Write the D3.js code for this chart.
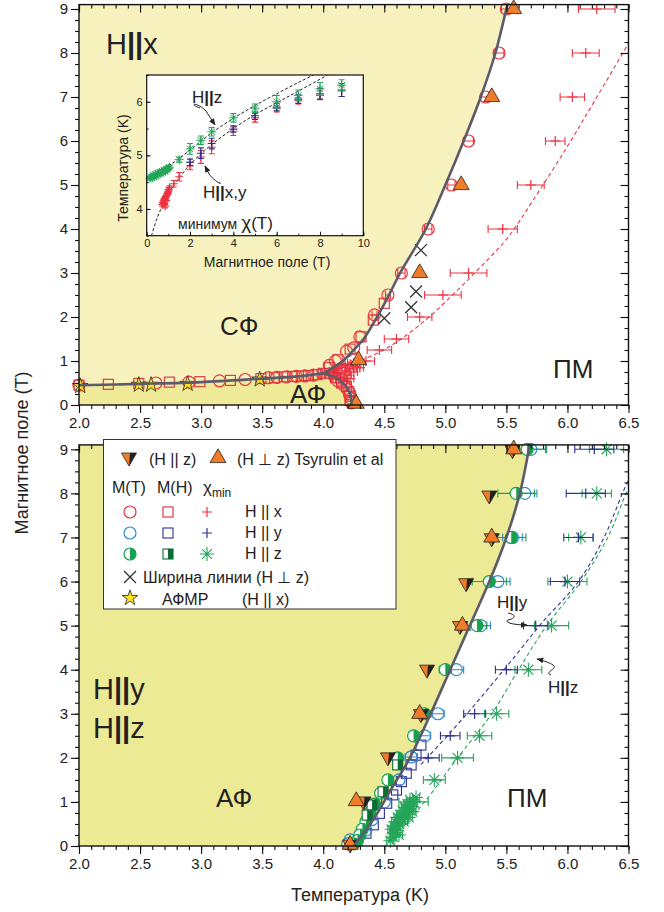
<!DOCTYPE html>
<html><head><meta charset="utf-8">
<script src="https://cdn.jsdelivr.net/npm/d3@7"></script>
<style>body{margin:0;background:#fff} svg{display:block} text{font-family:Arial,"Liberation Sans",sans-serif;fill:#222}</style>
</head><body><svg id="c" width="664" height="912"></svg>
<script>
// ---------------- DATA ----------------
const xTicks = [2.0,2.5,3.0,3.5,4.0,4.5,5.0,5.5,6.0,6.5];
const yTicks = [0,1,2,3,4,5,6,7,8,9];
const insetXTicks = [0,2,4,6,8,10];
const insetYTicks = [4,5,6];

// top panel boundary (T, H)
const topHoriz = [[2.0,0.45],[2.5,0.48],[3.0,0.52],[3.5,0.6],[3.8,0.65],[4.0,0.72]];
const topUpper = [[4.0,0.72],[4.08,0.85],[4.16,1.0],[4.25,1.25],[4.33,1.5],[4.42,1.9],[4.52,2.4],[4.63,3.0],[4.84,4.0],[5.0,5.0],[5.15,6.0],[5.29,7.0],[5.41,8.0],[5.5,9.0],[5.51,9.1]];
const topLower = [[4.0,0.72],[4.1,0.62],[4.16,0.5],[4.2,0.38],[4.22,0.25],[4.23,0.1],[4.23,0]];
const topRedDash = [[4.1,0.78],[4.28,0.98],[4.52,1.29],[4.79,1.82],[5.10,2.61],[5.3,3.17],[5.51,3.8],[5.72,4.66],[6.0,5.88],[6.22,6.9],[6.5,8.22]];

// top panel data: [T, H, errT]
const topCircleX = [[5.50,9,0.04],[5.44,8,0.04],[5.33,7,0.04],[5.19,6,0.04],[5.05,5,0.03],[4.86,4,0.03],[4.64,3,0.03],[4.53,2.5,0.02],[4.42,2.05,0.02],[4.30,1.55,0],[4.25,1.3,0],[4.19,1.22,0],[4.10,1.0,0],[4.05,0.9,0],
  [2.0,0.45,0],[2.63,0.5,0],[2.9,0.52,0],[3.15,0.55,0],[3.36,0.58,0],[3.55,0.62,0],[3.62,0.63,0],[3.70,0.64,0],[3.78,0.65,0],[3.85,0.66,0],[3.92,0.68,0],
  [4.12,0.55,0],[4.17,0.45,0],[4.2,0.35,0],[4.22,0.25,0],[4.23,0.15,0],[4.23,0.05,0]];
const topSquareX = [[2.0,0.45],[2.24,0.47],[2.49,0.49],[2.74,0.52],[2.99,0.53],[3.24,0.56],[3.49,0.6],[3.6,0.62],[3.68,0.64],[3.75,0.65],[3.82,0.66],[3.88,0.67],[3.95,0.69],[4.0,0.72],
  [4.50,2.31],[4.41,1.93],[4.31,1.55],[4.22,1.27],[4.12,1.03],[4.05,0.85],
  [4.1,0.62],[4.15,0.5],[4.19,0.42],[4.21,0.3],[4.22,0.2],[4.22,0.1]];
const topPlusX = [[6.24,9,0.15],[6.15,8,0.11],[6.04,7,0.1],[5.90,6,0.08],[5.70,5,0.11],[5.47,4,0.12],[5.19,3,0.15],[4.98,2.5,0.15],[4.79,2,0.1],[4.60,1.5,0.1],[4.46,1.25,0.1],[4.35,1.0,0.07],
  [3.98,0.7,0.03],[4.02,0.72,0.03],[4.05,0.75,0.03],[4.08,0.78,0.03],[4.1,0.8,0.03],[4.12,0.83,0.03],[4.15,0.86,0.03],[4.18,0.9,0.03],[4.2,0.93,0.03],[4.25,0.95,0.03],
  [4.05,0.68,0.03],[4.08,0.65,0.03],[4.12,0.7,0.03],[4.15,0.73,0.03],[4.18,0.78,0.03],[4.22,0.82,0.03],[4.27,0.88,0.03],[4.1,0.6,0.03],[4.14,0.62,0.03],[4.2,0.68,0.03],[4.25,0.75,0.03],[4.3,0.85,0.03],[4.17,0.55,0.03],[4.22,0.6,0.03]];
const topLineWidthX = [[4.80,3.52],[4.76,2.58],[4.72,2.22],[4.50,1.97]];
const topTriUp = [[5.56,9],[5.38,7],[5.13,5],[4.79,3],[4.29,1.02],[4.27,0.03]];
const topStar = [[2.01,0.43],[2.49,0.46],[2.59,0.46],[2.89,0.48],[3.48,0.58]];

// inset: [H, T, errT]
const insetUpperDash = [[0,4.57],[1,4.8],[2,5.1],[3,5.42],[4,5.69],[5,5.93],[6,6.15],[7,6.36],[7.7,6.5]];
const insetLowerDash = [[0.22,3.5],[0.5,3.85],[0.8,4.12],[1.2,4.42],[1.5,4.58],[2,4.83],[3,5.2],[4,5.5],[5,5.76],[6,5.98],[7,6.2],[8,6.42],[8.35,6.5]];
const insetGreen = [[0.15,4.57,0.03],[0.2,4.6,0.03],[0.25,4.58,0.03],[0.3,4.62,0.03],[0.35,4.6,0.03],[0.4,4.64,0.03],[0.45,4.62,0.03],[0.5,4.66,0.03],[0.55,4.65,0.03],[0.6,4.68,0.03],[0.65,4.66,0.03],[0.7,4.7,0.03],[0.75,4.69,0.03],[0.8,4.72,0.03],[0.85,4.7,0.03],[0.9,4.74,0.03],[0.95,4.73,0.03],[1.0,4.76,0.03],[1.05,4.78,0.03],
  [1.5,4.92,0.05],[2,5.12,0.1],[2.5,5.28,0.08],[3,5.44,0.08],[4,5.70,0.08],[5,5.88,0.08],[6,6.0,0.12],[7,6.12,0.1],[8,6.24,0.12],[9,6.31,0.1]];
const insetBlue = [[2,4.87,0.06],[2.5,5.04,0.1],[3,5.22,0.1],[4,5.49,0.06],[5,5.74,0.07],[6,5.9,0.07],[7,6.05,0.08],[8,6.15,0.1],[9,6.22,0.12]];
const insetRed = [[0.72,4.08,0.03],[0.75,4.12,0.03],[0.78,4.15,0.03],[0.8,4.1,0.03],[0.82,4.18,0.03],[0.85,4.2,0.03],[0.88,4.22,0.03],[0.9,4.16,0.03],[0.92,4.25,0.03],[0.95,4.28,0.03],[0.98,4.3,0.03],[1.0,4.33,0.03],[1.02,4.36,0.03],[1.05,4.4,0.03],[0.85,4.05,0.03],
  [1.25,4.47,0.06],[1.5,4.6,0.08],[2,4.8,0.07],[2.5,4.97,0.12],[3,5.15,0.12],[4,5.45,0.08],[5,5.7,0.08],[6,5.87,0.06],[7,6.02,0.06],[8,6.12,0.08],[9,6.2,0.1]];

// bottom panel boundary and fits (T, H)
const botCurve = [[4.25,0],[4.41,0.6],[4.56,1.3],[4.71,2.0],[4.88,3.0],[5.04,4.0],[5.2,5.0],[5.36,6],[5.5,7],[5.61,8],[5.69,9.1]];
const botBlueDash = [[4.8,1.85],[5.05,2.6],[5.3,3.4],[5.54,4.2],[5.79,5.06],[6.09,6.0],[6.3,7.0],[6.45,8.0],[6.5,8.3]];
const botGreenDash = [[4.55,0.1],[4.83,1.0],[5.1,2.0],[5.38,3.0],[5.6,4.0],[5.83,5.0],[6.11,6.0],[6.33,7.0],[6.48,8.0],[6.5,8.1]];

// bottom panel data: [T, H, errT]
const botTriUp = [[5.56,9],[5.38,7],[5.14,5],[4.79,3],[4.27,1.02],[4.22,0.03]];
const botTriDown = [[5.55,8.97],[5.36,7.94],[5.38,6.97],[5.17,5.95],[5.12,4.98],[4.85,3.99],[4.8,2.98],[4.53,2.0],[4.33,1.0],[4.22,0.02]];
const botCircleY = [[5.70,9,0.12],[5.65,8,0.1],[5.55,7,0.08],[5.43,6,0.1],[5.29,5,0.08],[5.09,4,0.06],[4.94,3,0.05],[4.83,2.5,0.05],[4.72,2.02,0.05],[4.62,1.5,0],[4.5,1.0,0],[4.4,0.6,0],[4.35,0.36,0],[4.22,0.14,0],[4.2,0.05,0]];
const botCircleZ = [[5.67,9,0.16],[5.58,8,0.15],[5.54,7,0.12],[5.36,6,0.14],[5.26,5,0.08],[5.0,4,0.05],[4.83,3,0.05],[4.74,2.5,0.04],[4.61,2,0.04],[4.53,1.5,0.04],[4.47,1.2,0],[4.42,0.95,0],[4.38,0.75,0],[4.35,0.55,0],[4.32,0.38,0],[4.3,0.25,0],[4.28,0.12,0],[4.25,0.05,0]];
const botSquareY = [[4.80,2.29],[4.76,2.06],[4.72,1.84],[4.68,1.65],[4.64,1.46],[4.60,1.27],[4.57,1.16],[4.52,0.97],[4.46,0.74],[4.41,0.48],[4.35,0.29]];
const botSquareZ = [[4.61,1.84],[4.49,1.23],[4.40,0.93],[4.36,0.7]];
const botPlusY = [[6.22,9,0.16],[6.15,8,0.16],[6.09,7,0.12],[5.98,6,0.12],[5.74,5,0.1],[5.50,4,0.09],[5.24,3,0.09],[5.04,2.5,0.08],[4.86,2,0.09]];
const botAsterZ = [[6.32,9,0.14],[6.24,8,0.12],[6.11,7,0.1],[6.0,6,0.16],[5.87,5,0.14],[5.68,4,0.11],[5.42,3,0.1],[5.28,2.5,0.1],[5.10,2,0.13],[4.91,1.5,0.09],[4.74,1.0,0.12],
  [4.55,0.12,0.03],[4.57,0.2,0.03],[4.58,0.3,0.03],[4.56,0.38,0.03],[4.6,0.45,0.03],[4.62,0.5,0.03],[4.59,0.55,0.03],[4.64,0.6,0.03],[4.61,0.65,0.03],[4.66,0.68,0.03],[4.63,0.72,0.03],[4.68,0.75,0.03],[4.65,0.8,0.03],[4.7,0.82,0.03],[4.67,0.88,0.03],[4.72,0.9,0.03],[4.69,0.95,0.03],[4.74,0.98,0.03],[4.71,1.05,0.03],[4.76,1.1,0.03],[4.6,0.35,0.03],[4.62,0.25,0.03],[4.58,0.45,0.03],[4.66,0.55,0.03],[4.7,0.65,0.03],[4.73,0.78,0.03]];

// ---------------- DRAWING ----------------
const RED='#ec3340', BLUEC='#2d8ad0', NAVY='#2e3192', GREEN='#17a050', DKGREEN='#0d6b35', AGREEN='#25a55a', ORANGE='#f07b28', CURVE='#5b5b6b';
const svg = d3.select('#c');
svg.append('rect').attr('width',664).attr('height',912).attr('fill','#fff');

const X = d3.scaleLinear().domain([2,6.5]).range([79,628.5]);
const YT = d3.scaleLinear().domain([0,9.1]).range([405,4.6]);
const YB = d3.scaleLinear().domain([0,9.1]).range([846,444.9]);
const IX = d3.scaleLinear().domain([0,10]).range([146.7,363.3]);
const IY = d3.scaleLinear().domain([3.5,6.5]).range([235.7,75]);

const defs = svg.append('defs');
function clip(id,x,y,w,h){defs.append('clipPath').attr('id',id).append('rect').attr('x',x).attr('y',y).attr('width',w).attr('height',h);}
clip('cT',X(2),YT(9.1),X(6.5)-X(2),YT(0)-YT(9.1));
clip('cB',X(2),YB(9.1),X(6.5)-X(2),YB(0)-YB(9.1));
clip('cI',IX(0),IY(6.5),IX(10)-IX(0),IY(3.5)-IY(6.5));
defs.append('marker').attr('id','arr').attr('viewBox','0 0 10 10').attr('refX',9).attr('refY',5)
  .attr('markerWidth',7).attr('markerHeight',7).attr('orient','auto-start-reverse')
  .append('path').attr('d','M0,1 L10,5 L0,9 Z').attr('fill','#222');

function lineGen(sx,sy){return d3.line().x(d=>sx(d[0])).y(d=>sy(d[1])).curve(d3.curveCatmullRom.alpha(0.5));}

function drawMarker(g,type,cx,cy,c){
  switch(type){
    case 'circle': g.append('circle').attr('cx',cx).attr('cy',cy).attr('r',6).attr('fill','none').attr('stroke',c).attr('stroke-width',1.2); break;
    case 'hcircle': g.append('circle').attr('cx',cx).attr('cy',cy).attr('r',6).attr('fill','#fff').attr('stroke',c).attr('stroke-width',1.2);
      g.append('path').attr('d',`M${cx},${cy-6}A6,6 0 0 1 ${cx},${cy+6}Z`).attr('fill',c); break;
    case 'square': g.append('rect').attr('x',cx-5).attr('y',cy-5).attr('width',10).attr('height',10).attr('fill','none').attr('stroke',c).attr('stroke-width',1.1); break;
    case 'hsquare': g.append('rect').attr('x',cx-5).attr('y',cy-5).attr('width',10).attr('height',10).attr('fill','#fff').attr('stroke',c).attr('stroke-width',1.1);
      g.append('rect').attr('x',cx).attr('y',cy-5).attr('width',5).attr('height',10).attr('fill',c); break;
    case 'plus': g.append('path').attr('d',`M${cx-5},${cy}H${cx+5}M${cx},${cy-5}V${cy+5}`).attr('stroke',c).attr('stroke-width',1.2).attr('fill','none'); break;
    case 'aster': { const r=7, a=r*0.707; g.append('path').attr('d',`M${cx-r},${cy}H${cx+r}M${cx},${cy-r}V${cy+r}M${cx-a},${cy-a}L${cx+a},${cy+a}M${cx-a},${cy+a}L${cx+a},${cy-a}`).attr('stroke',c).attr('stroke-width',1.1).attr('fill','none'); break; }
    case 'x': g.append('path').attr('d',`M${cx-6},${cy-6}L${cx+6},${cy+6}M${cx-6},${cy+6}L${cx+6},${cy-6}`).attr('stroke','#333').attr('stroke-width',1.3); break;
    case 'star': g.append('path').attr('d',d3.symbol(d3.symbolStar,75)()).attr('transform',`translate(${cx},${cy})`).attr('fill','#ffe21a').attr('stroke','#222').attr('stroke-width',0.8); break;
    case 'triup': g.append('path').attr('d',d3.symbol(d3.symbolTriangle,110)()).attr('transform',`translate(${cx},${cy})`).attr('fill',ORANGE).attr('stroke','#222').attr('stroke-width',0.8); break;
    case 'tridown': g.append('path').attr('d',`M${cx-7.5},${cy-5}L${cx+7.5},${cy-5}L${cx},${cy+8}Z`).attr('fill',ORANGE).attr('stroke','#222').attr('stroke-width',0.8);
      g.append('path').attr('d',`M${cx+1},${cy-5}L${cx+7.5},${cy-5}L${cx},${cy+8}Z`).attr('fill','#222'); break;
  }
}
function hErr(g,sx,sy,d,c){
  if(!d[2]) return;
  const y=sy(d[1]), x1=sx(d[0]-d[2]), x2=sx(d[0]+d[2]);
  g.append('path').attr('d',`M${x1},${y}H${x2}M${x1},${y-4}V${y+4}M${x2},${y-4}V${y+4}`).attr('stroke',c).attr('stroke-width',1.1).attr('fill','none');
}
function vErr(g,sx,sy,d,c){
  if(!d[2]) return;
  const x=sx(d[0]), y1=sy(d[1]-d[2]), y2=sy(d[1]+d[2]);
  g.append('path').attr('d',`M${x},${y1}V${y2}M${x-3},${y1}H${x+3}M${x-3},${y2}H${x+3}`).attr('stroke',c).attr('stroke-width',1.1).attr('fill','none');
}
function series(g,data,sx,sy,type,c,errFn){
  data.forEach(d=>{ if(errFn) errFn(g,sx,sy,d,c); drawMarker(g,type,sx(d[0]),sy(d[1]),c); });
}

function axes(yS, yBottom, yTop){
  const minorX = d3.range(0,46).map(i=>2+i*0.1);
  const minorY = d3.range(0,37).map(i=>i*0.25);
  const fix = g=>{g.select('.domain').remove(); g.selectAll('line').attr('stroke','#111').attr('stroke-width',1.1); g.selectAll('text').attr('font-size',15).attr('font-family','Arial, "Liberation Sans", sans-serif').attr('fill','#222');};
  svg.append('g').attr('transform',`translate(0,${yBottom})`).call(d3.axisBottom(X).tickValues(minorX).tickSize(4).tickFormat('')).call(fix);
  svg.append('g').attr('transform',`translate(0,${yBottom})`).call(d3.axisBottom(X).tickValues(xTicks).tickSize(8).tickPadding(4).tickFormat(d3.format('.1f'))).call(fix);
  svg.append('g').attr('transform',`translate(0,${yTop})`).call(d3.axisBottom(X).tickValues(minorX).tickSize(4).tickFormat('')).call(fix);
  svg.append('g').attr('transform',`translate(0,${yTop})`).call(d3.axisBottom(X).tickValues(xTicks).tickSize(8).tickFormat('')).call(fix);
  svg.append('g').attr('transform',`translate(${X(2)},0)`).call(d3.axisLeft(yS).tickValues(minorY).tickSize(4).tickFormat('')).call(fix);
  svg.append('g').attr('transform',`translate(${X(2)},0)`).call(d3.axisLeft(yS).tickValues(yTicks).tickSize(8).tickPadding(3).tickFormat(d3.format('d'))).call(fix);
  svg.append('g').attr('transform',`translate(${X(6.5)},0)`).call(d3.axisLeft(yS).tickValues(minorY).tickSize(4).tickFormat('')).call(fix);
  svg.append('g').attr('transform',`translate(${X(6.5)},0)`).call(d3.axisLeft(yS).tickValues(yTicks).tickSize(8).tickFormat('')).call(fix);
  svg.append('rect').attr('x',X(2)).attr('y',yTop).attr('width',X(6.5)-X(2)).attr('height',yBottom-yTop).attr('fill','none').attr('stroke','#111').attr('stroke-width',1.4);
}
function txt(x,y,s,size,opts={}){
  const t=svg.append('text').attr('x',x).attr('y',y).attr('font-size',size);
  if(opts.anchor) t.attr('text-anchor',opts.anchor);
  if(opts.rot) t.attr('transform',`rotate(${opts.rot},${x},${y})`);
  return t.text(s);
}
function hpar(x,y,pre,post,size){ // "H||x" with heavy bars
  const t=svg.append('text').attr('x',x).attr('y',y).attr('font-size',size);
  t.append('tspan').text(pre);
  t.append('tspan').attr('font-weight','bold').text('||');
  t.append('tspan').text(post);
  return t;
}

// ===== TOP PANEL =====
const lT = lineGen(X,YT);
const gTF = svg.append('g').attr('clip-path','url(#cT)');
gTF.append('path').attr('d', lT([...topUpper].reverse()) + lT(topLower).replace(/^M/,'L') + `L${X(2)},${YT(0)}L${X(2)},${YT(9.1)}Z`).attr('fill','#f7f2bd');
gTF.append('path').attr('d', lT(topHoriz) + lT(topLower).replace(/^M/,'L') + `L${X(2)},${YT(0)}Z`).attr('fill','#eeea98');
gTF.append('path').attr('d',lT(topRedDash)).attr('fill','none').attr('stroke',RED).attr('stroke-width',1.1).attr('stroke-dasharray','4,3');

const gTD = svg.append('g');
series(gTD,topPlusX,X,YT,'plus',RED,hErr);
series(gTD,topSquareX,X,YT,'square','#d8303a');
series(gTD,topCircleX,X,YT,'circle',RED,hErr);
const gTC = svg.append('g').attr('clip-path','url(#cT)');
[topHoriz,topUpper,topLower].forEach(p=>gTC.append('path').attr('d',lT(p)).attr('fill','none').attr('stroke',CURVE).attr('stroke-width',2.6));
series(gTD,topStar,X,YT,'star');
series(gTD,topLineWidthX,X,YT,'x');
series(gTD,topTriUp,X,YT,'triup');
axes(YT,YT(0),YT(9.1));

// region labels top
hpar(106,54,'H','x',29);
txt(220,335,'СФ',26);
txt(290,403,'АФ',26);
txt(553,378,'ПМ',26);

// ===== INSET =====
svg.append('rect').attr('x',IX(0)).attr('y',IY(6.5)).attr('width',IX(10)-IX(0)).attr('height',IY(3.5)-IY(6.5)).attr('fill','#fff');
const lI = lineGen(IX,IY);
const gIC = svg.append('g').attr('clip-path','url(#cI)');
[insetUpperDash,insetLowerDash].forEach(p=>gIC.append('path').attr('d',lI(p)).attr('fill','none').attr('stroke','#222').attr('stroke-width',1).attr('stroke-dasharray','3,2'));
const gID = svg.append('g');
insetRed.forEach(d=>{vErr(gID,IX,IY,d,RED); gID.append('path').attr('d',`M${IX(d[0])-4},${IY(d[1])}H${IX(d[0])+4}M${IX(d[0])},${IY(d[1])-4}V${IY(d[1])+4}`).attr('stroke',RED).attr('stroke-width',1.1);});
insetBlue.forEach(d=>{vErr(gID,IX,IY,d,NAVY); gID.append('path').attr('d',`M${IX(d[0])-4},${IY(d[1])}H${IX(d[0])+4}M${IX(d[0])},${IY(d[1])-4}V${IY(d[1])+4}`).attr('stroke',NAVY).attr('stroke-width',1.1);});
insetGreen.forEach(d=>{vErr(gID,IX,IY,d,AGREEN); const cx=IX(d[0]),cy=IY(d[1]),r=4.5,a=3.2;
  gID.append('path').attr('d',`M${cx-r},${cy}H${cx+r}M${cx},${cy-r}V${cy+r}M${cx-a},${cy-a}L${cx+a},${cy+a}M${cx-a},${cy+a}L${cx+a},${cy-a}`).attr('stroke',AGREEN).attr('stroke-width',1);});
{
  const fixI = g=>{g.select('.domain').remove(); g.selectAll('line').attr('stroke','#111'); g.selectAll('text').attr('font-size',11).attr('font-family','Arial, sans-serif').attr('fill','#222');};
  svg.append('g').attr('transform',`translate(0,${IY(3.5)})`).call(d3.axisTop(IX).tickValues(d3.range(0,11)).tickSize(2).tickFormat('')).call(fixI);
  svg.append('g').attr('transform',`translate(0,${IY(3.5)})`).call(d3.axisTop(IX).tickValues(insetXTicks).tickSize(4).tickFormat('')).call(fixI);
  svg.append('g').attr('transform',`translate(0,${IY(3.5)})`).call(d3.axisBottom(IX).tickValues(insetXTicks).tickSize(0).tickPadding(4).tickFormat(d3.format('d'))).call(fixI);
  svg.append('g').attr('transform',`translate(${IX(0)},0)`).call(d3.axisRight(IY).tickValues([3.5,4,4.5,5,5.5,6,6.5]).tickSize(2).tickFormat('')).call(fixI);
  svg.append('g').attr('transform',`translate(${IX(0)},0)`).call(d3.axisRight(IY).tickValues(insetYTicks).tickSize(4).tickFormat('')).call(fixI);
  svg.append('g').attr('transform',`translate(${IX(0)},0)`).call(d3.axisLeft(IY).tickValues(insetYTicks).tickSize(0).tickPadding(4).tickFormat(d3.format('d'))).call(fixI);
  svg.append('rect').attr('x',IX(0)).attr('y',IY(6.5)).attr('width',IX(10)-IX(0)).attr('height',IY(3.5)-IY(6.5)).attr('fill','none').attr('stroke','#111').attr('stroke-width',1.2);
}
txt(267,267,'Магнитное поле (T)',14,{anchor:'middle'});
txt(128,168,'Температура (K)',14,{anchor:'middle',rot:-90});
hpar(192,103,'H','z',17);
hpar(203,198,'H','x,y',17);
{ const t=svg.append('text').attr('x',178).attr('y',229).attr('font-size',14);
  t.append('tspan').text('минимум ');
  t.append('tspan').attr('font-size',19).text('χ');
  t.append('tspan').attr('font-size',17).text('(T)'); }
svg.append('path').attr('d','M200,108 C188,104 196,101 206,111 L215,125').attr('fill','none').attr('stroke','#222').attr('stroke-width',1).attr('marker-end','url(#arr)');
svg.append('path').attr('d','M219,182 C224,186 214,181 209,174 L205,166').attr('fill','none').attr('stroke','#222').attr('stroke-width',1).attr('marker-end','url(#arr)');

// ===== BOTTOM PANEL =====
const lB = lineGen(X,YB);
const gBF = svg.append('g').attr('clip-path','url(#cB)');
gBF.append('path').attr('d', lB([...botCurve].reverse()) + `L${X(2)},${YB(0)}L${X(2)},${YB(9.1)}Z`).attr('fill','#edea96');
gBF.append('path').attr('d',lB(botBlueDash)).attr('fill','none').attr('stroke',NAVY).attr('stroke-width',1.1).attr('stroke-dasharray','4,3');
gBF.append('path').attr('d',lB(botGreenDash)).attr('fill','none').attr('stroke',AGREEN).attr('stroke-width',1.1).attr('stroke-dasharray','4,3');

const gBD = svg.append('g');
series(gBD,botAsterZ,X,YB,'aster',AGREEN,hErr);
series(gBD,botPlusY,X,YB,'plus',NAVY,hErr);
series(gBD,botSquareY,X,YB,'square',NAVY);
series(gBD,botCircleY,X,YB,'circle',BLUEC,hErr);
series(gBD,botCircleZ,X,YB,'hcircle',GREEN,hErr);
series(gBD,botSquareZ,X,YB,'hsquare',DKGREEN);
svg.append('g').attr('clip-path','url(#cB)').append('path').attr('d',lB(botCurve)).attr('fill','none').attr('stroke',CURVE).attr('stroke-width',2.6);
series(gBD,botTriDown,X,YB,'tridown');
series(gBD,botTriUp,X,YB,'triup');
axes(YB,YB(0),YB(9.1));

hpar(93,699,'H','y',29);
hpar(93,738,'H','z',29);
txt(216,807,'АФ',26);
txt(507,807,'ПМ',26);
hpar(497,608,'H','y',17);
hpar(548,693,'H','z',17);
svg.append('path').attr('d','M508,613 c10,2 6,6 0,7 c-4,2 4,5 19,5').attr('fill','none').attr('stroke','#222').attr('stroke-width',1).attr('marker-end','url(#arr)');
svg.append('path').attr('d','M551,675 c-8,-3 8,-6 2,-10 c-3,-2 -8,-4 -16,-6').attr('fill','none').attr('stroke','#222').attr('stroke-width',1).attr('marker-end','url(#arr)');

// ===== LEGEND =====
const lg = svg.append('g');
lg.append('rect').attr('x',103.5).attr('y',439.5).attr('width',292.5).attr('height',169.5).attr('fill','#fff').attr('stroke','#333').attr('stroke-width',1);
drawMarker(lg,'tridown',129,458);
txt(149,465,'(H || z)',16);
drawMarker(lg,'triup',218,458);
txt(237,465,'(H ⊥ z) Tsyrulin et al',16);
txt(112,493,'M(T)',16);
txt(157,493,'M(H)',16);
{ const t=svg.append('text').attr('x',203).attr('y',493).attr('font-size',17); t.append('tspan').text('χ'); t.append('tspan').attr('font-size',12).attr('dy',4).text('min'); }
const legRows = [['circle',RED,'square','#d8303a','plus',RED,'H || x',512,517],['circle',BLUEC,'square',NAVY,'plus',NAVY,'H || y',533,538],['hcircle',GREEN,'hsquare',DKGREEN,'aster',AGREEN,'H || z',554,559]];
legRows.forEach(r=>{ drawMarker(lg,r[0],130,r[7],r[1]); drawMarker(lg,r[2],168,r[7],r[3]); drawMarker(lg,r[4],207,r[7],r[5]); txt(245,r[8],r[6],16); });
drawMarker(lg,'x',130,577);
txt(143,583,'Ширина линии  (H ⊥ z)',16);
drawMarker(lg,'star',130,598);
txt(162,605,'АФМР',16);
txt(242,605,'(H || x)',16);

// axis titles
txt(360,901,'Температура (K)',18,{anchor:'middle'});
txt(28,453,'Магнитное поле (T)',18,{anchor:'middle',rot:-90});
</script></body></html>
